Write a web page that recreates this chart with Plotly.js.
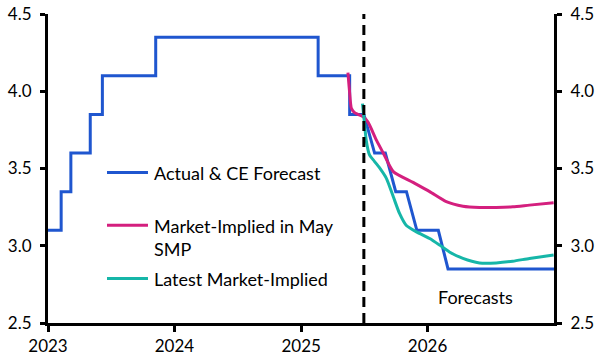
<!DOCTYPE html>
<html>
<head>
<meta charset="utf-8">
<script src="https://cdn.plot.ly/plotly-3.0.1.min.js"></script>
<style>html,body{margin:0;padding:0;background:#fff}#chart{width:603px;height:361px}</style>
</head>
<body>
<div id="chart"></div>
<script>
// Actual policy rate (step changes)
const actualDates = ['2023-01-01','2023-02-08','2023-03-08','2023-05-03','2023-06-07','2023-11-08','2025-02-19','2025-05-21','2025-07-01'];
const actualValues = [3.10,3.35,3.60,3.85,4.10,4.35,4.10,3.85,3.85];
// CE forecast (monthly)
const forecastDates = ['2025-07-01','2025-08-01','2025-09-01','2025-10-01','2025-11-01','2025-12-01','2026-01-01','2026-02-01','2026-03-01','2027-01-01'];
const forecastValues = [3.85,3.60,3.60,3.35,3.35,3.10,3.10,3.10,2.85,2.85];
// Market-implied in May SMP
const mayDates = ['2025-05-16','2025-05-21','2025-05-26','2025-06-05','2025-06-29','2025-07-13','2025-08-07','2025-08-26','2025-09-24','2025-11-20','2026-01-07','2026-02-24','2026-04-13','2026-05-31','2026-07-18','2026-09-04','2026-10-22','2026-12-31'];
const mayValues = [4.12,3.99,3.89,3.86,3.835,3.80,3.68,3.60,3.48,3.41,3.35,3.285,3.256,3.248,3.248,3.252,3.263,3.278];
// Latest market-implied
const latestDates = ['2025-06-27','2025-07-03','2025-07-08','2025-07-17','2025-08-01','2025-08-15','2025-09-04','2025-09-24','2025-10-12','2025-10-31','2025-11-30','2026-01-07','2026-02-05','2026-03-05','2026-04-13','2026-05-31','2026-07-18','2026-09-04','2026-10-22','2026-12-31'];
const latestValues = [3.92,3.79,3.68,3.59,3.545,3.505,3.436,3.317,3.209,3.133,3.09,3.047,3.004,2.96,2.918,2.889,2.889,2.90,2.918,2.94];

const yearTicks = ['2023-01-01','2024-01-01','2025-01-01','2026-01-01'];
const yearLabels = ['2023','2024','2025','2026'];
const seriesNames = ['Actual & CE Forecast','Market-Implied in May<br>SMP','Latest Market-Implied'];
const colors = ['#1F56CF','#D41F7E','#16B6A8'];
const forecastStart = '2025-07-01';

const FONT = 'Lato, "Open Sans", sans-serif';
const traces = [
  {x: actualDates, y: actualValues, mode:'lines', line:{shape:'hv', color:colors[0], width:3}, showlegend:false, hoverinfo:'skip'},
  {x: forecastDates, y: forecastValues, mode:'lines', line:{color:colors[0], width:3}, showlegend:false, hoverinfo:'skip'},
  {x: mayDates, y: mayValues, mode:'lines', line:{color:colors[1], width:3, shape:'spline', smoothing:0.6}, showlegend:false, hoverinfo:'skip'},
  {x: latestDates, y: latestValues, mode:'lines', line:{color:colors[2], width:3, shape:'spline', smoothing:0.6}, showlegend:false, hoverinfo:'skip'},
  {x: [], y: [], yaxis:'y2', showlegend:false}
];

// custom legend (paper coordinates)
const legY = [0.487, 0.3165, 0.1438];
const shapes = [
  {type:'line', xref:'x', yref:'y', x0:forecastStart, x1:forecastStart, y0:2.5, y1:4.5, line:{color:'#000', width:3, dash:'10px,6px'}}
];
const annotations = [
  {xref:'x', yref:'y', x:'2026-05-18', y:2.67, text:'Forecasts', showarrow:false, font:{family:FONT, size:18, color:'#000'}}
];
for (let i=0;i<3;i++){
  shapes.push({type:'line', xref:'paper', yref:'paper', x0:0.1166, x1:0.1976, y0:legY[i], y1:legY[i], line:{color:colors[i], width:3}});
  annotations.push({xref:'paper', yref:'paper', x:0.2055, y:legY[i], xanchor:'left', yanchor: i===1 ? 'top':'middle', yshift: i===1 ? 12.5 : 0, align:'left', text:seriesNames[i], showarrow:false, font:{family:FONT, size:18, color:'#000'}});
}

const axisCommon = {range:[2.5,4.5], dtick:0.5, tick0:2.5, tickformat:'.1f', ticks:'outside', ticklen:5, tickwidth:3, tickcolor:'#000', ticklabelstandoff:5, showline:true, linecolor:'#000', linewidth:3, showgrid:false, zeroline:false, fixedrange:true, tickfont:{family:FONT, size:17, color:'#000'}};

const layout = {
  width:603, height:361,
  margin:{l:48, r:49, t:14, b:38},
  paper_bgcolor:'#fff', plot_bgcolor:'#fff',
  showlegend:false,
  xaxis:{type:'date', range:['2023-01-01','2027-01-01'], tickvals:yearTicks, ticktext:yearLabels, ticks:'outside', ticklen:6, tickwidth:3, tickcolor:'#000', showline:true, linecolor:'#000', linewidth:3, showgrid:false, zeroline:false, tickfont:{family:FONT, size:17, color:'#000'}},
  yaxis: Object.assign({side:'left'}, axisCommon),
  yaxis2: Object.assign({side:'right', overlaying:'y', anchor:'x'}, axisCommon),
  shapes: shapes,
  annotations: annotations
};

Plotly.newPlot('chart', traces, layout, {staticPlot:true, displayModeBar:false});
</script>
</body>
</html>
